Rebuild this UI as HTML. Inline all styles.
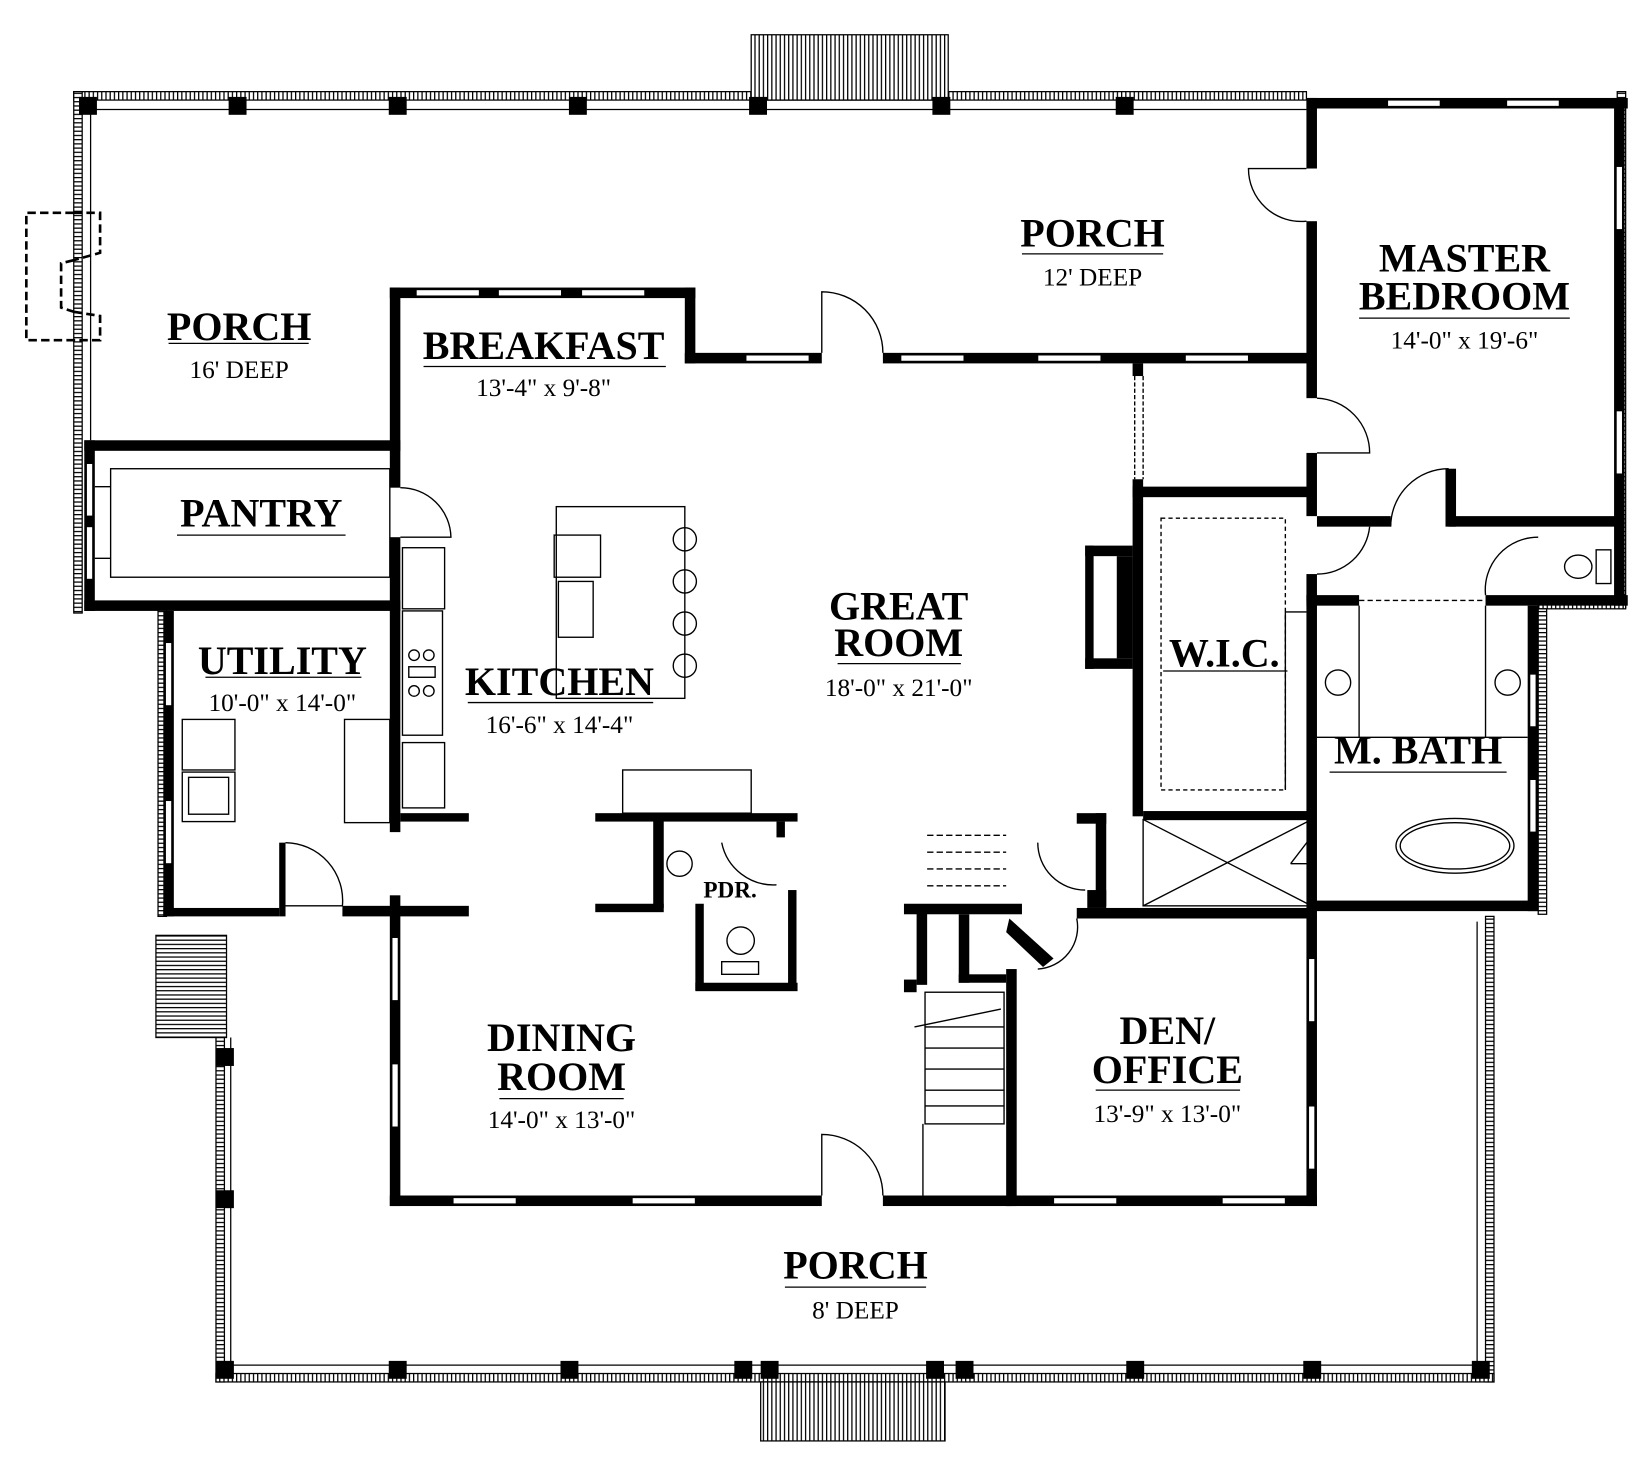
<!DOCTYPE html>
<html><head><meta charset="utf-8"><style>
html,body{margin:0;padding:0;background:#fff;}
svg{display:block;}
text{font-family:"Liberation Serif",serif;fill:#000;text-anchor:middle;}
.L{font-size:38px;font-weight:bold;}
.S{font-size:24px;font-weight:normal;}
</style></head><body>
<svg width="1652" height="1462" viewBox="0 0 1568 1388" preserveAspectRatio="none" xmlns="http://www.w3.org/2000/svg">
<defs>
<pattern id="hh" width="4" height="10" patternUnits="userSpaceOnUse"><rect width="4" height="10" fill="#fff"/><rect width="1.2" height="10" fill="#000"/></pattern>
<pattern id="hv" width="10" height="4" patternUnits="userSpaceOnUse"><rect width="10" height="4" fill="#fff"/><rect width="10" height="1.2" fill="#000"/></pattern>
</defs>
<g stroke="#000" stroke-width="1.2">
<rect x="70" y="87" width="1170" height="8" fill="url(#hh)"/>
<rect x="70" y="87" width="8" height="495" fill="url(#hv)"/>
<rect x="1535" y="87" width="8" height="490" fill="url(#hv)"/>
<rect x="1460" y="570" width="83" height="8" fill="url(#hh)"/>
<rect x="1460" y="578" width="8" height="290" fill="url(#hv)"/>
<rect x="150" y="578" width="8" height="292" fill="url(#hv)"/>
<rect x="1410" y="870" width="8" height="442" fill="url(#hv)"/>
<rect x="205" y="985" width="8" height="327" fill="url(#hv)"/>
<rect x="205" y="1304" width="1213" height="8" fill="url(#hh)"/>
<line x1="80" y1="104" x2="1240" y2="104"/><line x1="86" y1="104" x2="86" y2="418"/>
<line x1="213" y1="1296" x2="1410" y2="1296"/><line x1="219" y1="985" x2="219" y2="1296"/>
<line x1="1402" y1="875" x2="1402" y2="1296"/>
<rect x="713" y="33" width="187" height="62" fill="url(#hh)"/>
<rect x="722" y="1312" width="175" height="56" fill="url(#hh)"/>
<rect x="148" y="888" width="67" height="97" fill="url(#hv)"/>
<path d="M70 202 H95 V240 L70 247 M70 296 L95 300 V323 H70 M70 202 H25 V323 H70 M70 247 L58 250 V292 L70 296" fill="none" stroke-width="2.5" stroke-dasharray="8 4"/>
</g>
<g fill="#000">
<rect x="75" y="92" width="17" height="17"/><rect x="217" y="92" width="17" height="17"/><rect x="369" y="92" width="17" height="17"/><rect x="540" y="92" width="17" height="17"/><rect x="711" y="92" width="17" height="17"/><rect x="885" y="92" width="17" height="17"/><rect x="1059" y="92" width="17" height="17"/>
<rect x="205" y="1292" width="17" height="17"/><rect x="369" y="1292" width="17" height="17"/><rect x="532" y="1292" width="17" height="17"/><rect x="697" y="1292" width="17" height="17"/><rect x="722" y="1292" width="17" height="17"/><rect x="879" y="1292" width="17" height="17"/><rect x="907" y="1292" width="17" height="17"/><rect x="1069" y="1292" width="17" height="17"/><rect x="1237" y="1292" width="17" height="17"/><rect x="1397" y="1292" width="17" height="17"/>
<rect x="205" y="995" width="17" height="17"/><rect x="205" y="1130" width="17" height="17"/>
<rect x="370" y="273" width="10" height="190"/><rect x="370" y="273" width="290" height="10"/><rect x="650" y="273" width="10" height="72"/>
<rect x="650" y="335" width="130" height="10"/><rect x="838" y="335" width="407" height="10"/>
<rect x="1240" y="93" width="10" height="67"/><rect x="1240" y="210" width="10" height="168"/><rect x="1240" y="430" width="10" height="60"/><rect x="1240" y="545" width="10" height="25"/>
<rect x="1240" y="93" width="305" height="10"/><rect x="1532" y="93" width="10" height="404"/>
<rect x="1375" y="490" width="167" height="10"/><rect x="1372" y="445" width="10" height="55"/><rect x="1250" y="490" width="70" height="10"/>
<rect x="1532" y="497" width="10" height="78"/><rect x="1410" y="565" width="135" height="10"/><rect x="1240" y="565" width="50" height="10"/>
<rect x="1075" y="455" width="10" height="320"/><rect x="1075" y="462" width="170" height="10"/><rect x="1240" y="565" width="10" height="300"/>
<rect x="1085" y="770" width="160" height="8"/><rect x="1075" y="345" width="10" height="12"/>
<rect x="1245" y="855" width="215" height="10"/><rect x="1450" y="575" width="10" height="290"/>
<rect x="1030" y="518" width="45" height="10"/><rect x="1030" y="625" width="45" height="10"/><rect x="1060" y="528" width="15" height="97"/><rect x="1030" y="518" width="8" height="117"/>
<rect x="1022" y="862" width="228" height="10"/><rect x="1240" y="870" width="10" height="275"/><rect x="955" y="1135" width="295" height="10"/><rect x="955" y="920" width="10" height="225"/>
<rect x="370" y="1135" width="410" height="10"/><rect x="838" y="1135" width="122" height="10"/>
<rect x="370" y="850" width="10" height="295"/>
<rect x="870" y="860" width="10" height="75"/><rect x="858" y="858" width="112" height="10"/><rect x="910" y="868" width="10" height="65"/><rect x="910" y="925" width="45" height="8"/>
<rect x="1040" y="772" width="10" height="88"/><rect x="1022" y="772" width="28" height="10"/><rect x="1032" y="845" width="18" height="17"/>
<rect x="370" y="510" width="10" height="280"/><rect x="380" y="772" width="65" height="8"/>
<rect x="80" y="570" width="300" height="10"/><rect x="80" y="418" width="300" height="10"/><rect x="80" y="418" width="10" height="162"/>
<rect x="155" y="580" width="10" height="290"/><rect x="155" y="862" width="110" height="8"/><rect x="265" y="800" width="6" height="70"/><rect x="325" y="860" width="120" height="10"/>
<rect x="565" y="772" width="192" height="8"/><rect x="620" y="772" width="10" height="90"/><rect x="565" y="858" width="65" height="8"/><rect x="660" y="858" width="8" height="82"/><rect x="660" y="933" width="97" height="8"/><rect x="748" y="845" width="8" height="95"/><rect x="737" y="780" width="8" height="15"/>
<rect x="858" y="930" width="12" height="12"/>
</g>
<g fill="#fff" stroke="#000" stroke-width="1">
<rect x="395" y="275" width="60" height="6"/><rect x="473" y="275" width="60" height="6"/><rect x="552" y="275" width="60" height="6"/>
<rect x="708" y="337" width="60" height="6"/><rect x="855" y="337" width="60" height="6"/><rect x="985" y="337" width="60" height="6"/><rect x="1125" y="337" width="60" height="6"/>
<rect x="1317" y="95" width="50" height="6"/><rect x="1430" y="95" width="50" height="6"/>
<rect x="1534" y="158" width="6" height="60"/><rect x="1534" y="390" width="6" height="60"/>
<rect x="1452" y="640" width="6" height="50"/><rect x="1452" y="740" width="6" height="50"/>
<rect x="157" y="610" width="6" height="60"/><rect x="157" y="760" width="6" height="60"/>
<rect x="372" y="890" width="6" height="60"/><rect x="372" y="1010" width="6" height="60"/>
<rect x="430" y="1137" width="60" height="6"/><rect x="600" y="1137" width="60" height="6"/><rect x="1000" y="1137" width="60" height="6"/><rect x="1160" y="1137" width="60" height="6"/><rect x="1242" y="910" width="6" height="60"/><rect x="1242" y="1050" width="6" height="60"/>
<rect x="82" y="440" width="6" height="50"/><rect x="82" y="500" width="6" height="50"/>
</g>
<g fill="none" stroke="#000" stroke-width="1.3">
<path d="M780 335 V277 A58 58 0 0 1 838 335"/>
<path d="M780 1135 V1077 A58 58 0 0 1 838 1135"/>
<path d="M1240 160 H1185 A50 50 0 0 0 1240 210"/>
<path d="M1250 378 A52 52 0 0 1 1300 430 H1250"/>
<path d="M1320 500 A55 55 0 0 1 1375 445"/>
<path d="M1250 545 A50 50 0 0 0 1300 500 M1410 565 A50 50 0 0 1 1460 510"/>
<path d="M380 463 A48 48 0 0 1 428 510 H380"/>
<path d="M271 800 A55 55 0 0 1 325 860 H271"/>
<path d="M1022 872 A40 40 0 0 1 985 920 M985 800 A45 45 0 0 0 1030 845"/>
<path d="M685 800 A50 50 0 0 0 737 840"/>
<rect x="105" y="445" width="265" height="103"/>
<line x1="90" y1="462" x2="105" y2="462"/><line x1="90" y1="530" x2="105" y2="530"/>
<rect x="528" y="481" width="122" height="182"/><rect x="526" y="508" width="44" height="40"/><rect x="530" y="552" width="33" height="53"/>
<circle cx="650" cy="512" r="11"/><circle cx="650" cy="552" r="11"/><circle cx="650" cy="592" r="11"/><circle cx="650" cy="632" r="11"/>
<rect x="382" y="520" width="40" height="58"/><rect x="382" y="580" width="38" height="118"/><rect x="382" y="705" width="40" height="62"/>
<circle cx="393" cy="622" r="5"/><circle cx="407" cy="622" r="5"/><circle cx="393" cy="656" r="5"/><circle cx="407" cy="656" r="5"/><rect x="388" y="633" width="25" height="10"/>
<rect x="173" y="683" width="50" height="48"/><rect x="173" y="733" width="50" height="47"/><rect x="179" y="738" width="38" height="35"/>
<rect x="327" y="683" width="43" height="98"/>
<rect x="591" y="731" width="122" height="41"/>
<circle cx="645" cy="820" r="12"/><ellipse cx="703" cy="893" rx="13" ry="13"/><rect x="685" y="913" width="35" height="12"/>
<rect x="1102" y="492" width="118" height="258" stroke-dasharray="4 3"/>
<line x1="1085" y1="778" x2="1245" y2="860"/><line x1="1245" y1="778" x2="1085" y2="860"/><rect x="1085" y="778" width="160" height="82"/>
<line x1="1220" y1="581" x2="1220" y2="750"/><line x1="1220" y1="581" x2="1240" y2="581"/>
<line x1="1290" y1="575" x2="1290" y2="700"/><line x1="1410" y1="575" x2="1410" y2="700"/><line x1="1290" y1="570" x2="1410" y2="570" stroke-dasharray="5 3"/>
<line x1="1250" y1="700" x2="1450" y2="700"/>
<circle cx="1270" cy="648" r="12"/><circle cx="1431" cy="648" r="12"/>
<ellipse cx="1381" cy="803" rx="56" ry="26"/><ellipse cx="1381" cy="803" rx="52" ry="22"/>
<ellipse cx="1498" cy="538" rx="13" ry="11"/><rect x="1515" y="522" width="14" height="32"/>
<line x1="1077" y1="357" x2="1077" y2="455" stroke-dasharray="4 2"/><line x1="1085" y1="357" x2="1085" y2="455" stroke-dasharray="4 2"/>
<g stroke-dasharray="6 3"><line x1="880" y1="793" x2="955" y2="793"/><line x1="880" y1="809" x2="955" y2="809"/><line x1="880" y1="825" x2="955" y2="825"/><line x1="880" y1="841" x2="955" y2="841"/></g>
<rect x="878" y="942" width="75" height="125"/><line x1="878" y1="975" x2="953" y2="975"/><line x1="878" y1="995" x2="953" y2="995"/><line x1="878" y1="1015" x2="953" y2="1015"/><line x1="878" y1="1035" x2="953" y2="1035"/><line x1="878" y1="1050" x2="953" y2="1050"/>
<line x1="868" y1="975" x2="950" y2="958"/><line x1="876" y1="1067" x2="876" y2="1135"/>
<line x1="1248" y1="790" x2="1225" y2="820"/><line x1="1225" y1="820" x2="1245" y2="820"/>
</g>
<path d="M958 872 L1000 910 L990 918 L955 885 Z" fill="#000"/>
<g stroke="#000" stroke-width="1.2">
<line x1="160" y1="326" x2="293" y2="326"/><line x1="402" y1="348" x2="632" y2="348"/><line x1="970" y1="241" x2="1104" y2="241"/><line x1="1290" y1="302" x2="1490" y2="302"/>
<line x1="168" y1="508" x2="328" y2="508"/><line x1="195" y1="643" x2="343" y2="643"/><line x1="444" y1="667" x2="620" y2="667"/><line x1="795" y1="630" x2="912" y2="630"/>
<line x1="1104" y1="637" x2="1222" y2="637"/><line x1="1262" y1="733" x2="1430" y2="733"/><line x1="474" y1="1043" x2="592" y2="1043"/><line x1="1040" y1="1035" x2="1177" y2="1035"/><line x1="745" y1="1222" x2="879" y2="1222"/>
</g>
<g>
<text class="L" x="227" y="323">PORCH</text><text class="S" x="227" y="359">16' DEEP</text>
<text class="L" x="516" y="341">BREAKFAST</text><text class="S" x="516" y="376">13'-4" x 9'-8"</text>
<text class="L" x="1037" y="234">PORCH</text><text class="S" x="1037" y="271">12' DEEP</text>
<text class="L" x="1390" y="258">MASTER</text><text class="L" x="1390" y="294">BEDROOM</text><text class="S" x="1390" y="331">14'-0" x 19'-6"</text>
<text class="L" x="248" y="500">PANTRY</text>
<text class="L" x="268" y="640">UTILITY</text><text class="S" x="268" y="675">10'-0" x 14'-0"</text>
<text class="L" x="531" y="660">KITCHEN</text><text class="S" x="531" y="696">16'-6" x 14'-4"</text>
<text class="L" x="853" y="588">GREAT</text><text class="L" x="853" y="623">ROOM</text><text class="S" x="853" y="661">18'-0" x 21'-0"</text>
<text class="L" x="1162" y="633">W.I.C.</text>
<text class="L" x="1346" y="725">M. BATH</text>
<text class="S" x="693" y="852" style="font-weight:bold;font-size:22px">PDR.</text>
<text class="L" x="533" y="998">DINING</text><text class="L" x="533" y="1035">ROOM</text><text class="S" x="533" y="1071">14'-0" x 13'-0"</text>
<text class="L" x="1108" y="991">DEN/</text><text class="L" x="1108" y="1028">OFFICE</text><text class="S" x="1108" y="1065">13'-9" x 13'-0"</text>
<text class="L" x="812" y="1214">PORCH</text><text class="S" x="812" y="1252">8' DEEP</text>
</g>
</svg>
</body></html>
